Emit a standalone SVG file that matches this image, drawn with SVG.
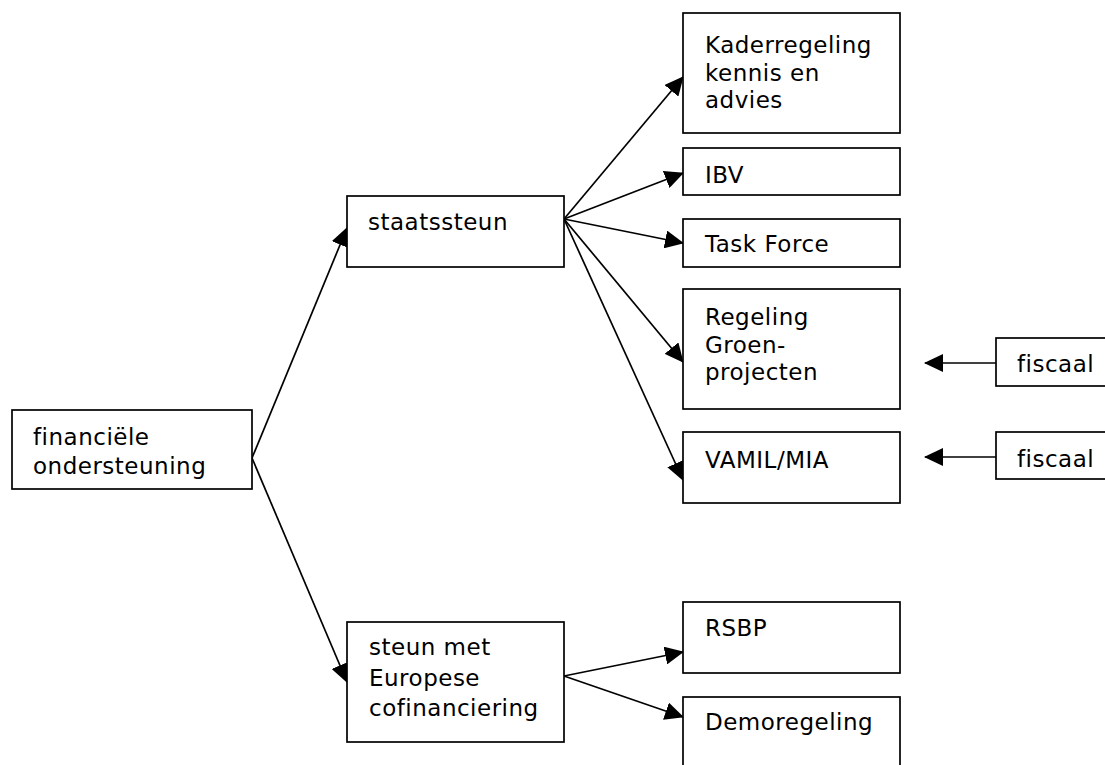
<svg xmlns="http://www.w3.org/2000/svg" width="1105" height="765" viewBox="0 0 1105 765">
<defs>
<style>
.box{fill:#fff;stroke:#000;stroke-width:1.7}
.t{font-family:"DejaVu Sans","Open Sans",sans-serif;font-size:23px;letter-spacing:0.5px;fill:#000}
.c{stroke:#000;stroke-width:1.7;fill:none;marker-end:url(#ah)}
</style>
<marker id="ah" markerUnits="userSpaceOnUse" markerWidth="20" markerHeight="18" refX="18" refY="9" orient="auto" viewBox="0 0 20 18">
<path d="M0,0 L19,9 L0,18 z" fill="#000"/>
</marker>
</defs>
<rect width="1105" height="765" fill="#fff"/>
<g id="connectors">
<line class="c" x1="252" y1="458" x2="347" y2="228"/>
<line class="c" x1="252" y1="458" x2="347" y2="682"/>
<line class="c" x1="564" y1="219" x2="683" y2="77"/>
<line class="c" x1="564" y1="219" x2="683" y2="173"/>
<line class="c" x1="564" y1="219" x2="683" y2="243"/>
<line class="c" x1="564" y1="219" x2="683" y2="362"/>
<line class="c" x1="564" y1="219" x2="683" y2="480"/>
<line class="c" x1="564" y1="676" x2="683" y2="652"/>
<line class="c" x1="564" y1="676" x2="683" y2="717"/>
<line class="c" x1="996" y1="363" x2="925" y2="363"/>
<line class="c" x1="996" y1="457" x2="925" y2="457"/>
</g>
<g id="n-financiele">
<rect class="box" x="12" y="410" width="240" height="79"/>
<text class="t" x="33" y="445">financiële</text>
<text class="t" x="33" y="474">ondersteuning</text>
</g>
<g id="n-staatssteun">
<rect class="box" x="347" y="196" width="217" height="71"/>
<text class="t" x="368" y="230">staatssteun</text>
</g>
<g id="n-kader">
<rect class="box" x="683" y="13" width="217" height="120"/>
<text class="t" x="705" y="53">Kaderregeling</text>
<text class="t" x="705" y="80.5">kennis en</text>
<text class="t" x="705" y="108">advies</text>
</g>
<g id="n-ibv">
<rect class="box" x="683" y="148" width="217" height="47"/>
<text class="t" x="705" y="183">IBV</text>
</g>
<g id="n-taskforce">
<rect class="box" x="683" y="219" width="217" height="48"/>
<text class="t" x="705" y="252">Task Force</text>
</g>
<g id="n-groen">
<rect class="box" x="683" y="289" width="217" height="120"/>
<text class="t" x="705" y="325">Regeling</text>
<text class="t" x="705" y="352.5">Groen-</text>
<text class="t" x="705" y="380">projecten</text>
</g>
<g id="n-vamil">
<rect class="box" x="683" y="432" width="217" height="71"/>
<text class="t" x="705" y="468">VAMIL/MIA</text>
</g>
<g id="n-fiscaal1">
<rect class="box" x="996" y="338" width="120" height="48"/>
<text class="t" x="1017" y="372">fiscaal</text>
</g>
<g id="n-fiscaal2">
<rect class="box" x="996" y="432" width="120" height="47"/>
<text class="t" x="1017" y="467">fiscaal</text>
</g>
<g id="n-steun">
<rect class="box" x="347" y="622" width="217" height="120"/>
<text class="t" x="369" y="655">steun met</text>
<text class="t" x="369" y="685.5">Europese</text>
<text class="t" x="369" y="716">cofinanciering</text>
</g>
<g id="n-rsbp">
<rect class="box" x="683" y="602" width="217" height="71"/>
<text class="t" x="705" y="636">RSBP</text>
</g>
<g id="n-demo">
<rect class="box" x="683" y="697" width="217" height="80"/>
<text class="t" x="705" y="730">Demoregeling</text>
</g>
</svg>
